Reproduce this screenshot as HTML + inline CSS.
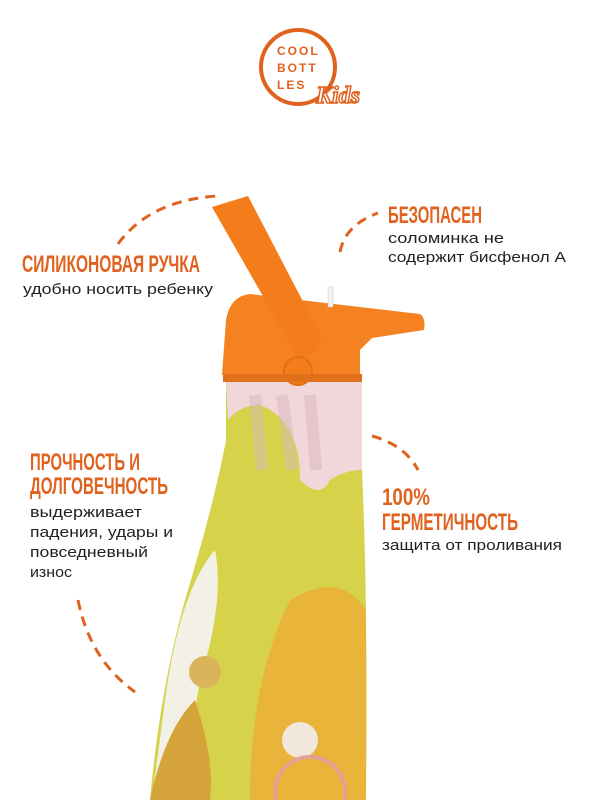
<!DOCTYPE html>
<html><head><meta charset="utf-8"><style>
html,body{margin:0;padding:0;background:#fff;width:600px;height:800px;overflow:hidden}
svg{display:block}
.t{font-family:"Liberation Sans Narrow","Liberation Sans",sans-serif;font-weight:bold;fill:#e0621f}
.b{font-family:"Liberation Sans",sans-serif;fill:#222;font-size:15px}
.d{fill:none;stroke:#e0621f;stroke-width:3;stroke-dasharray:10 7}
</style></head><body>
<svg width="600" height="800" viewBox="0 0 600 800">
<!-- logo -->
<circle cx="298" cy="67" r="37" fill="none" stroke="#e0621f" stroke-width="4"/>
<g font-family="Liberation Sans,sans-serif" font-weight="bold" font-size="12" fill="#e0621f" letter-spacing="2">
<text x="277" y="55">COOL</text><text x="277" y="72">BOTT</text><text x="277" y="89">LES</text></g>
<text x="316" y="103" font-family="Liberation Serif,serif" font-style="italic" font-weight="bold" font-size="24" fill="#fff" stroke="#e0621f" stroke-width="1.5">Kids</text>

<!-- bottle body -->
<path d="M226,378 L362,378 L362,470 Q368,600 366,800 L150,800 Q160,690 185,600 Q215,500 226,440 Z" fill="#d6d34a"/>
<path d="M226,378 L362,378 L362,470 Q345,470 330,480 Q320,500 300,480 Q300,420 260,405 Q240,405 228,420 Z" fill="#f1d6da"/>
<path d="M255,395 L262,470 M282,395 L292,470 M310,395 L316,470" stroke="#dcb8bd" stroke-width="12" opacity="0.5"/>
<path d="M290,600 Q340,570 366,610 L366,800 L250,800 Q250,680 290,600 Z" fill="#e8b53a"/>
<path d="M165,700 Q180,590 215,550 Q225,600 200,680 L180,800 L152,800 Z" fill="#f3f0e6"/>
<path d="M150,800 Q165,730 195,700 Q215,760 210,800 Z" fill="#d4a43a"/>
<circle cx="205" cy="672" r="16" fill="#d9b45b"/><circle cx="300" cy="740" r="18" fill="#f2e7dc"/>
<circle cx="310" cy="792" r="35" fill="none" stroke="#e4a095" stroke-width="4"/>
<!-- cap -->
<path d="M222,375 L226,320 Q230,296 250,294 L300,300 L420,314 Q426,318 424,330 L372,338 L360,350 L360,376 Z" fill="#f58220"/>
<path d="M212,207 L248,196 L322,338 Q318,355 300,358 L288,340 Z" fill="#f47c1a"/>
<circle cx="298" cy="371" r="14" fill="#f47c1a" stroke="#e56e10" stroke-width="2"/>
<rect x="223" y="374" width="139" height="8" fill="#e0701a"/>
<rect x="328" y="287" width="5" height="20" fill="#f2f2f2" stroke="#ccc" stroke-width="0.5"/>

<!-- dashed connectors -->
<path class="d" d="M118,244 Q150,200 218,196"/>
<path class="d" d="M340,252 Q345,225 378,213"/>
<path class="d" d="M372,436 Q405,445 418,470"/>
<path class="d" d="M78,600 Q90,660 135,692"/>

<!-- texts -->
<text class="t" x="22" y="272" font-size="24" textLength="178" lengthAdjust="spacingAndGlyphs">СИЛИКОНОВАЯ РУЧКА</text>
<text class="b" x="23" y="294" textLength="190" lengthAdjust="spacingAndGlyphs">удобно носить ребенку</text>
<text class="t" x="388" y="223" font-size="24" textLength="94" lengthAdjust="spacingAndGlyphs">БЕЗОПАСЕН</text>
<text class="b" x="388" y="243" textLength="116" lengthAdjust="spacingAndGlyphs">соломинка не</text>
<text class="b" x="388" y="262" textLength="178" lengthAdjust="spacingAndGlyphs">содержит бисфенол А</text>
<text class="t" x="30" y="470" font-size="24" textLength="110" lengthAdjust="spacingAndGlyphs">ПРОЧНОСТЬ И</text>
<text class="t" x="30" y="494" font-size="24" textLength="138" lengthAdjust="spacingAndGlyphs">ДОЛГОВЕЧНОСТЬ</text>
<text class="b" x="30" y="517" textLength="112" lengthAdjust="spacingAndGlyphs">выдерживает</text>
<text class="b" x="30" y="537" textLength="143" lengthAdjust="spacingAndGlyphs">падения, удары и</text>
<text class="b" x="30" y="557" textLength="118" lengthAdjust="spacingAndGlyphs">повседневный</text>
<text class="b" x="30" y="577" textLength="42" lengthAdjust="spacingAndGlyphs">износ</text>
<text class="t" x="382" y="505" font-size="24" textLength="48" lengthAdjust="spacingAndGlyphs">100%</text>
<text class="t" x="382" y="530" font-size="24" textLength="136" lengthAdjust="spacingAndGlyphs">ГЕРМЕТИЧНОСТЬ</text>
<text class="b" x="382" y="550" textLength="180" lengthAdjust="spacingAndGlyphs">защита от проливания</text>
</svg>
</body></html>
